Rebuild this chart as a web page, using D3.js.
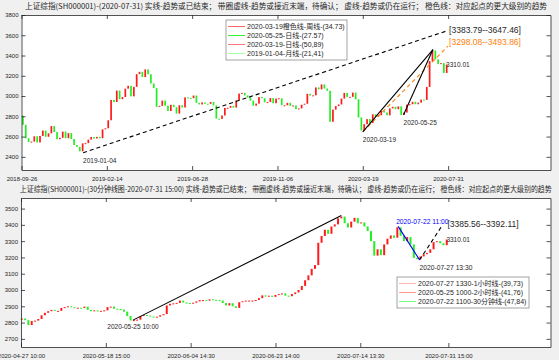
<!DOCTYPE html>
<html>
<head>
<meta charset="utf-8">
<script src="https://cdn.jsdelivr.net/npm/d3@7"></script>
<style>
  body { margin: 0; background: #f0f0f0; }
  svg { display: block; }
  text { font-family: "Liberation Sans", "Noto Sans CJK SC", sans-serif; fill: #262626; }
  .cjk { font-family: "Noto Sans CJK SC", "Liberation Sans", sans-serif; }
</style>
</head>
<body>
<svg class="chart" width="559" height="360"></svg>
<script>
// ---- daily chart (one close per 3 trading days, bar index 0 = 2018-09-26) ----
var dayStep = 3;
var dayCloses = [
  2806,2716,2583,2546,2550,2603,2542,2606,2659,2598,
  2632,2703,2645,2574,2588,2649,2584,2634,2576,2516,
  2498,2455,2533,2535,2570,2596,2581,2597,2584,2671,
  2682,2761,2961,2941,3054,2969,2990,3073,3101,2997,
  3091,3216,3239,3188,3263,3215,3124,3078,2893,2903,
  2955,2905,2852,2914,2890,2827,2909,2887,2987,2982,
  2979,3005,2933,2917,2937,2924,2923,2941,2908,2777,
  2774,2808,2883,2884,2902,2886,2957,3024,3031,3006,
  2985,2955,2905,2925,2990,2978,2938,2941,2980,2929,
  2975,2978,2909,2909,2933,2903,2907,2871,2878,2914,
  2924,3022,3005,3007,3085,3066,3115,3074,3052,2746,
  2866,2901,2917,2975,3031,2991,2992,3034,2968,2789,
  2660,2722,2772,2734,2820,2796,2811,2852,2838,2810,
  2878,2894,2870,2898,2813,2837,2915,2919,2943,2919,
  2935,2965,2962,3090,3345,3450,3362,3315,3325,3228,
  3310
];
var dayTickIdx = [0, 90, 180, 270, 360, 450];
var dayTickLabels = ["2018-09-26", "2019-02-14", "2019-06-28", "2019-11-06", "2020-03-19", "2020-07-31"];
var dayYTicks = [2400, 2600, 2800, 3000, 3200, 3400, 3600, 3800];

// trend lines: start bar / value, end bar / value
var dayTrendFrom = [65, 360, 360, 403];
var dayTrendFromVal = [2440.91, 2646.80, 2646.80, 2815.50];
var dayTrendTo = [450, 450, 434, 434];
var dayTrendToVal = [3647.46, 3493.86, 3458.79, 3458.79];
var dayPointLabels = ["2019-01-04", "2020-03-19", "2020-05-25"];
var dayRanges = ["[3383.79--3647.46]", "[3298.08--3493.86]"];
var dayLegend = ["2020-03-19橙色线-周线-(34.73)", "2020-05-25-日线-(27.57)", "2020-03-19-日线-(50,89)", "2019-01-04-月线-(21,41)"];
var dayTitle = "上证综指(SH000001)-(2020-07-31) 实线-趋势或已结束； 带圈虚线-趋势或接近末端，待确认； 虚线-趋势或仍在运行； 橙色线：对应起点的更大级别的趋势";

// ---- 30 minute chart (one close per half day, bar index 0 = 2020-04-27 10:00) ----
var minStep = 4;
var minOpen = 2818;
var minCloses = [
  2825,2815, 2785,2810, 2812,2822, 2845,2860, 2870,2878,
  2872,2872, 2890,2895, 2900,2894, 2888,2891, 2890,2898,
  2878,2870, 2875,2868, 2872,2875, 2895,2898, 2885,2883,
  2880,2867, 2840,2813, 2815,2818, 2840,2846, 2843,2837,
  2835,2836, 2845,2852, 2905,2915, 2918,2921, 2935,2923,
  2920,2919, 2922,2930, 2938,2938, 2935,2943, 2940,2939,
  2935,2920, 2905,2919, 2900,2890, 2925,2931, 2935,2935,
  2935,2939, 2950,2967, 2960,2965, 2958,2970, 2975,2979,
  2965,2962, 2975,2985, 3000,3025, 3060,3090, 3130,3153,
  3290,3332, 3370,3345, 3390,3403, 3440,3451, 3410,3384,
  3420,3443, 3410,3415, 3390,3362, 3300,3211, 3250,3214,
  3280,3315, 3335,3321, 3385,3333, 3300,3325, 3280,3197,
  3190,3206, 3220,3228, 3250,3294, 3300,3287, 3275,3310
];
var minTickIdx = [0, 103, 206, 309, 412, 519];
var minTickLabels = ["2020-04-27 10:00", "2020-05-18 15:00", "2020-06-04 14:30", "2020-06-23 14:00", "2020-07-14 13:30", "2020-07-31 15:00"];
var minYTicks = [2700, 2800, 2900, 3000, 3100, 3200, 3300, 3400, 3500];

var minTrendFrom = [136, 458, 484];
var minTrendFromVal = [2815.0, 3391.0, 3185.0];
var minTrendTo = [389, 484, 511];
var minTrendToVal = [3456.97, 3185.0, 3392.11];
var minPointLabels = ["2020-05-25 10:00", "2020-07-22 11:00", "2020-07-27 13:30"];
var minRanges = ["[3385.56--3392.11]"];
var minLegend = ["2020-07-27 1330-1小时线-(39,73)", "2020-05-25 1000-2小时线-(41,76)", "2020-07-22 1100-30分钟线-(47,84)"];
var minTitle = "上证综指(SH000001)-(30分钟线图-2020-07-31 15:00) 实线-趋势或已结束； 带圈虚线-趋势或接近末端，待确认； 虚线-趋势或仍在运行； 橙色线：对应起点的更大级别的趋势";

var lastClose = "3310.01";

var svg = d3.select(".chart");
var upColor = "#ff1a1a", downColor = "#22ee22";

function panel(o) {
  var g = svg.append("g");
  var x = d3.scaleLinear().domain(o.xDomain).range([o.left, o.right]);
  var y = d3.scaleLinear().domain(o.yDomain).range([o.bottom, o.top]);

  g.append("rect")
    .attr("x", o.left).attr("y", o.top)
    .attr("width", o.right - o.left).attr("height", o.bottom - o.top)
    .attr("fill", "#fff");

  // candles: open = previous close
  var bw = o.step * (x(1) - x(0)) * 0.6;
  var bars = o.closes.map(function(c, i) {
    var op = i === 0 ? o.open : o.closes[i - 1];
    return {i: o.first + i * o.step, o: op, c: c};
  }).filter(function(d) { return d.o != null; });

  g.selectAll("rect.bar")
    .data(bars)
    .enter().append("rect")
    .attr("class", "bar")
    .attr("x", function(d) { return x(d.i - o.step / 2) - bw / 2; })
    .attr("y", function(d) { return y(Math.max(d.o, d.c)); })
    .attr("width", bw)
    .attr("height", function(d) { return Math.max(1, Math.abs(y(d.o) - y(d.c))); })
    .attr("fill", function(d) { return d.c >= d.o ? upColor : downColor; });

  // axes, ticks pointing inward
  var xb = d3.axisBottom(x).tickValues(o.xTicks).tickSize(-4).tickSizeOuter(0)
    .tickFormat(function(d, i) { return o.xLabels[i]; });
  var xt = d3.axisTop(x).tickValues(o.xTicks).tickSize(-4).tickSizeOuter(0).tickFormat("");
  var yl = d3.axisLeft(y).tickValues(o.yTicks).tickSize(-4).tickSizeOuter(0).tickFormat(d3.format("d"));
  var yr = d3.axisRight(y).tickValues(o.yTicks).tickSize(-4).tickSizeOuter(0).tickFormat("");

  function style(sel) {
    sel.selectAll("path, line").attr("stroke", "#262626").attr("stroke-width", 0.8);
    sel.selectAll("text").attr("font-size", 6).attr("fill", "#262626")
      .attr("font-family", "Liberation Sans, sans-serif");
  }
  g.append("g").attr("transform", "translate(0," + o.bottom + ")").call(xb).call(style)
    .selectAll("text").attr("dy", "1.3em");
  g.append("g").attr("transform", "translate(0," + o.top + ")").call(xt).call(style);
  g.append("g").attr("transform", "translate(" + o.left + ",0)").call(yl).call(style)
    .selectAll("text").attr("x", -3);
  g.append("g").attr("transform", "translate(" + o.right + ",0)").call(yr).call(style);

  // trend lines
  o.from.forEach(function(f, k) {
    g.append("line")
      .attr("x1", x(f)).attr("y1", y(o.fromVal[k]))
      .attr("x2", x(o.to[k])).attr("y2", y(o.toVal[k]))
      .attr("stroke", o.lineColor[k])
      .attr("stroke-width", 1.1)
      .attr("stroke-dasharray", o.lineDash[k]);
  });

  // title
  g.append("text").attr("class", "cjk")
    .attr("x", (o.left + o.right) / 2).attr("y", o.top - 6)
    .attr("text-anchor", "middle")
    .attr("font-size", 7.5)
    .attr("textLength", o.titleWidth).attr("lengthAdjust", "spacingAndGlyphs")
    .text(o.title);

  return {g: g, x: x, y: y};
}

// ---------------- top panel ----------------
var p1 = panel({
  left: 21.5, right: 550.5, top: 15, bottom: 170,
  xDomain: [0, 558], yDomain: [2270, 3800],
  closes: dayCloses, step: dayStep, first: 0, open: null,
  xTicks: dayTickIdx, xLabels: dayTickLabels, yTicks: dayYTicks,
  from: dayTrendFrom, fromVal: dayTrendFromVal, to: dayTrendTo, toVal: dayTrendToVal,
  lineColor: ["#000", "#ff7f0e", "#000", "#000"],
  lineDash: ["4,3", "4,3", null, null],
  title: dayTitle, titleWidth: 522
});

p1.g.append("text").attr("x", p1.x(dayTrendFrom[0])).attr("y", p1.y(dayTrendFromVal[0]) + 10)
  .attr("font-size", 6.5).text(dayPointLabels[0]);
p1.g.append("text").attr("x", p1.x(dayTrendFrom[1])).attr("y", p1.y(dayTrendFromVal[1]) + 10)
  .attr("font-size", 6.5).text(dayPointLabels[1]);
p1.g.append("text").attr("x", p1.x(dayTrendFrom[3])).attr("y", p1.y(dayTrendFromVal[3]) + 10)
  .attr("font-size", 6.5).text(dayPointLabels[2]);
p1.g.append("text").attr("x", p1.x(450) + 1).attr("y", p1.y(dayTrendToVal[0]) + 3)
  .attr("font-size", 8.5).text(dayRanges[0]);
p1.g.append("text").attr("x", p1.x(450) + 1).attr("y", p1.y(dayTrendToVal[1]) - 1)
  .attr("font-size", 8.5).style("fill", "#ff7f0e").text(dayRanges[1]);
p1.g.append("text").attr("x", p1.x(450) - 2).attr("y", p1.y(3310.01) + 2)
  .attr("font-size", 6.5).text(lastClose);

// legend
function legend(g, lx, ly, w, rowH, labels, colors) {
  var h = rowH * labels.length + 4;
  g.append("rect").attr("x", lx).attr("y", ly).attr("width", w).attr("height", h)
    .attr("fill", "#fff").attr("stroke", "#8c8c8c").attr("stroke-width", 0.8);
  labels.forEach(function(t, k) {
    var cy = ly + 2 + rowH * (k + 0.5);
    g.append("line").attr("x1", lx + 2).attr("x2", lx + 19).attr("y1", cy).attr("y2", cy)
      .attr("stroke", colors[k]).attr("stroke-width", 0.9);
    g.append("text").attr("x", lx + 21).attr("y", cy + 2.4).attr("font-size", 7).text(t);
  });
}
legend(p1.g, 226, 20, 121, 9, dayLegend, ["#f55", "#2e2", "#f66", "#9f9"]);

// ---------------- bottom panel ----------------
var p2 = panel({
  left: 21, right: 550.5, top: 198, bottom: 347,
  xDomain: [0, 643], yDomain: [2650, 3565],
  closes: minCloses, step: minStep, first: 3, open: minOpen,
  xTicks: minTickIdx, xLabels: minTickLabels, yTicks: minYTicks,
  from: minTrendFrom, fromVal: minTrendFromVal, to: minTrendTo, toVal: minTrendToVal,
  lineColor: ["#000", "#00f", "#000"],
  lineDash: [null, null, "4,3"],
  title: minTitle, titleWidth: 532
});

p2.g.append("text").attr("x", p2.x(minTrendFrom[0])).attr("y", p2.y(minTrendFromVal[0]) + 9)
  .attr("text-anchor", "middle").attr("font-size", 6.5).text(minPointLabels[0]);
p2.g.append("text").attr("x", p2.x(minTrendFrom[1]) - 2).attr("y", p2.y(minTrendFromVal[1]) - 2)
  .attr("font-size", 6.7).style("fill", "#00f").text(minPointLabels[1]);
p2.g.append("text").attr("x", p2.x(minTrendTo[1])).attr("y", p2.y(minTrendToVal[1]) + 10)
  .attr("font-size", 6.7).text(minPointLabels[2]);
p2.g.append("text").attr("x", p2.x(519) - 1).attr("y", p2.y(minTrendToVal[2]) + 1)
  .attr("font-size", 8.5).text(minRanges[0]);
p2.g.append("text").attr("x", p2.x(519) - 2).attr("y", p2.y(3310.01) + 2)
  .attr("font-size", 6.5).text(lastClose);

legend(p2.g, 397, 277, 132, 9, minLegend, ["#faa", "#f88", "#6f6"]);
</script>
</body>
</html>
